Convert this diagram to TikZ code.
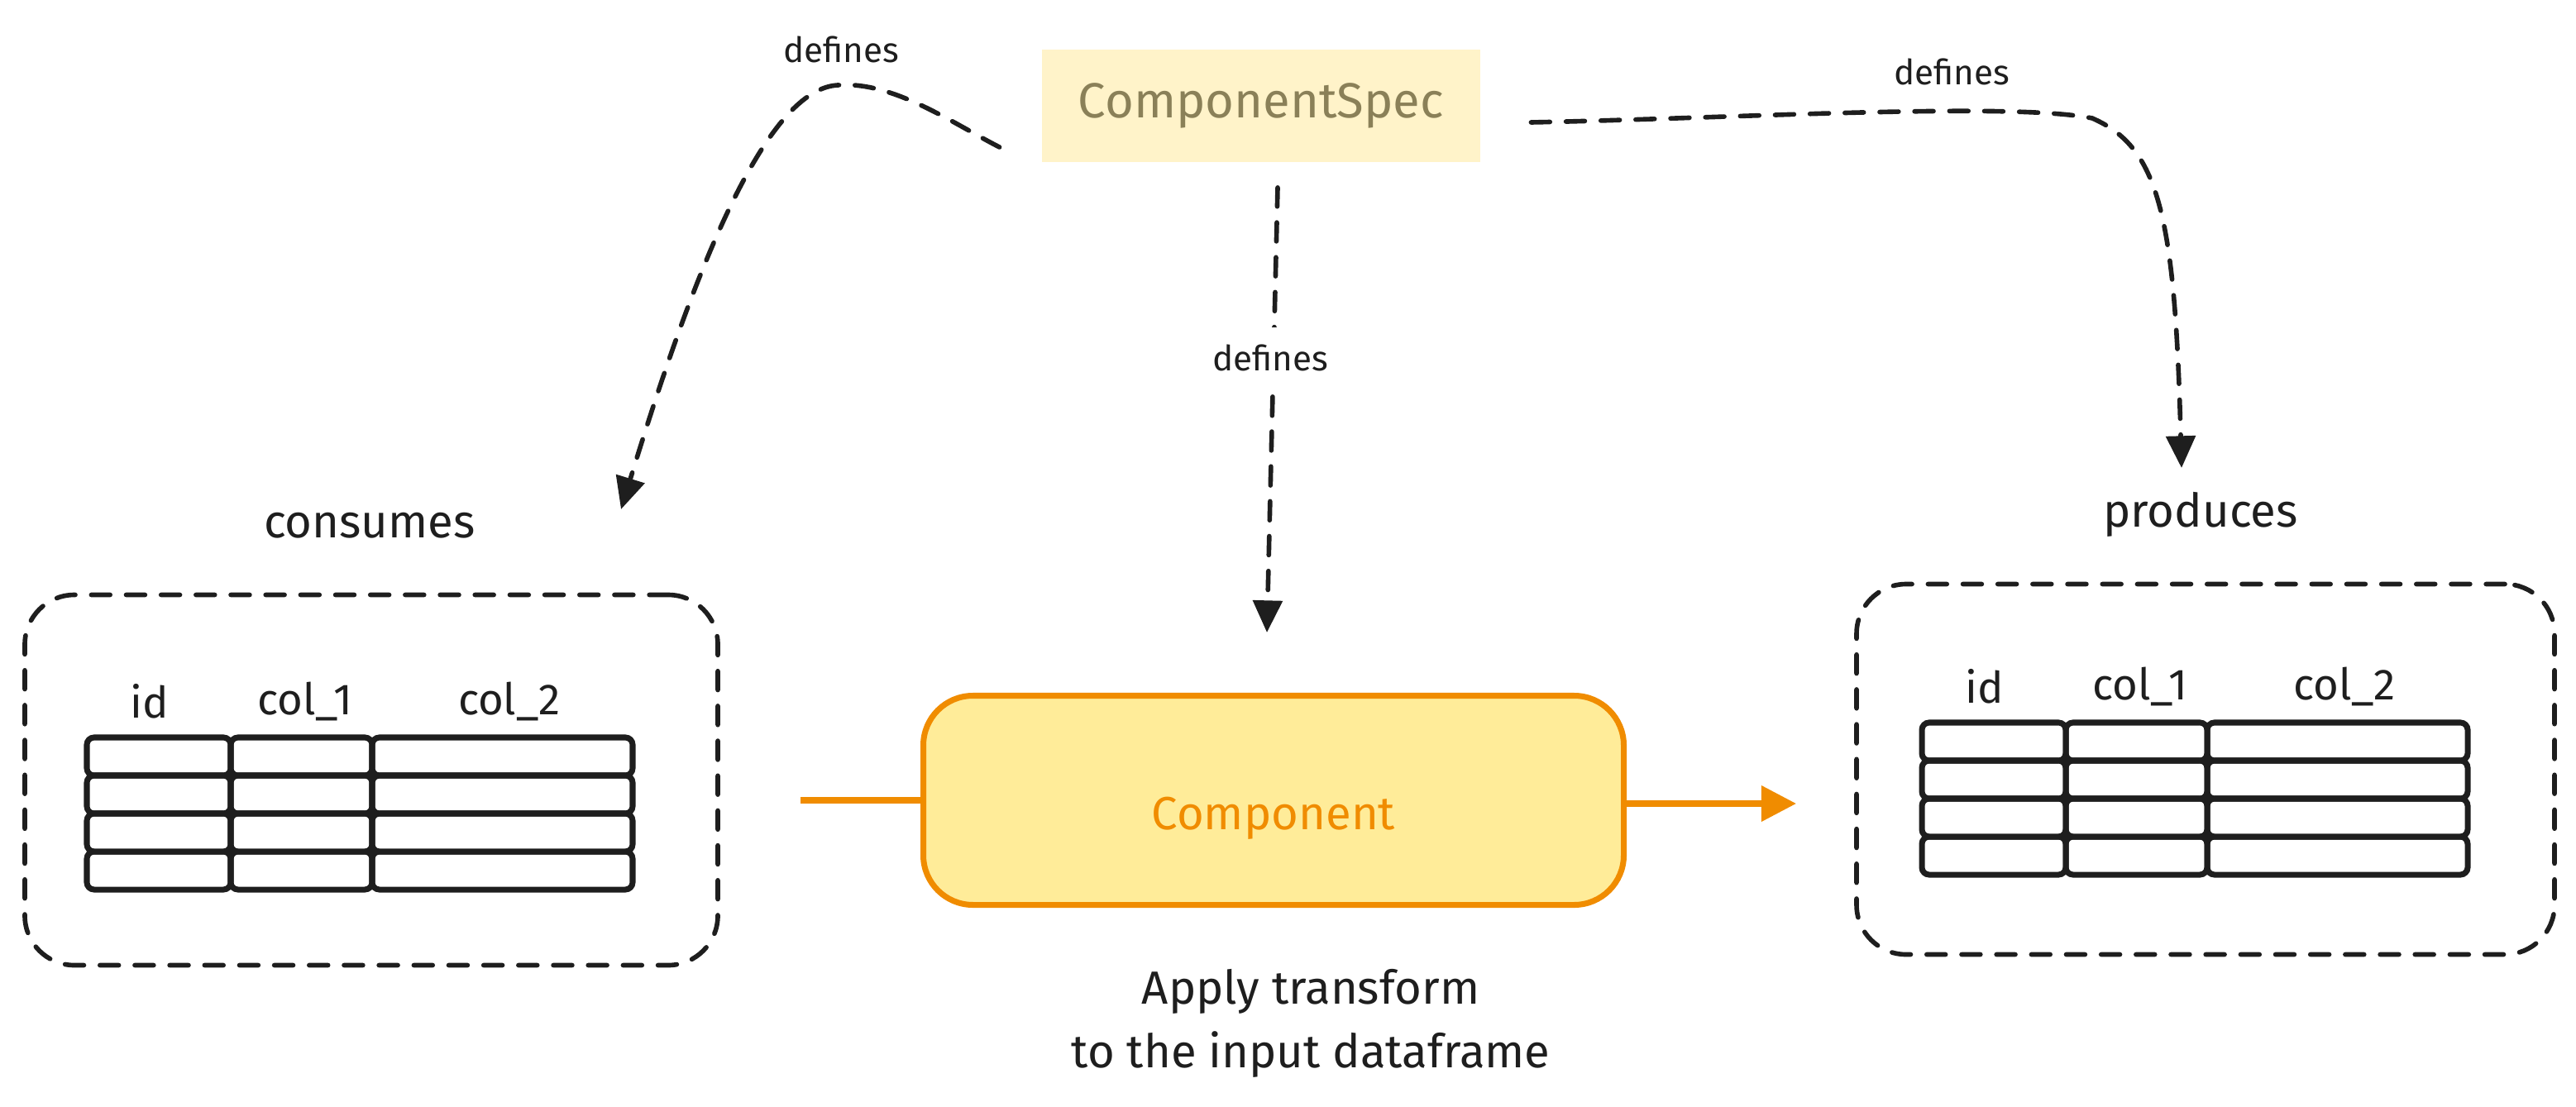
\documentclass[tikz,border=0pt]{standalone}
\usepackage{fontspec}
\setmainfont{Fira Sans}
\usetikzlibrary{arrows.meta,positioning}

\definecolor{inkblack}{HTML}{1E1E1E}
\definecolor{specfill}{HTML}{FFF3C9}
\definecolor{spectext}{HTML}{8A8058}
\definecolor{compfill}{HTML}{FFEC99}
\definecolor{comporange}{HTML}{F08C00}

\begin{document}
\begin{tikzpicture}[>=Stealth, thick,
    sketch/.style={line width=1.6pt, draw=inkblack, dash pattern=on 6.5pt off 5.5pt, line cap=round},
    defarrow/.style={sketch, -{Triangle[length=11pt,width=10pt]}},
    framebox/.style={sketch, rounded corners=0.6cm, minimum height=4.48cm},
    cell/.style={line width=2pt, draw=inkblack, rounded corners=2.5pt},
    colhead/.style={text=inkblack, font=\fontsize{15}{18}\selectfont},
    bigtext/.style={text=inkblack, font=\fontsize{16}{22}\selectfont},
    smalltext/.style={text=inkblack, font=\fontsize{12}{14}\selectfont},
    flow/.style={line width=2pt, draw=comporange}]

    \useasboundingbox (0,0) rectangle (31.15,13.38);

    % Spec note and component
    \node[fill=specfill, minimum width=5.3cm, minimum height=1.35cm, text=spectext,
        font=\fontsize{17}{20}\selectfont] (spec) at (15.25,12.1) {ComponentSpec};
    \node[flow, fill=compfill, rounded corners=0.6cm, minimum width=8.47cm, minimum height=2.53cm,
        text=comporange, font=\fontsize{16}{20}\selectfont] (comp) at (15.4,3.7) {\raisebox{-3.5mm}[0pt][0pt]{Component}};
    \node[bigtext, align=center] (note) at (15.85,1.0) {Apply transform\\to the input dataframe};

    % Input and output frames
    \node[framebox, minimum width=8.38cm] (inbox) at (4.49,3.945) {};
    \node[framebox, minimum width=8.44cm] (outbox) at (26.67,4.075) {};
    \node[bigtext] (consumes) at (4.47,7.02) {consumes};
    \node[bigtext] (produces) at (26.61,7.16) {produces};

    % Tables
    \def\datatable#1#2{
        \begin{scope}[shift={#1}]
            \foreach \xa/\xb in {0/1.74, 1.74/3.45, 3.45/6.6}
                \foreach \r in {0,...,3}
                    \draw[cell] (\xa,-\r*0.46) rectangle (\xb,-\r*0.46-0.46);
            \node[colhead] (#2id) at (0.76,0.44) {id};
            \node[colhead] (#2ca) at (2.64,0.44) {col\_1};
            \node[colhead] (#2cb) at (5.11,0.44) {col\_2};
        \end{scope}
    }
    \datatable{(1.05,4.46)}{in}
    \datatable{(23.24,4.64)}{out}

    % Free ends
    \coordinate (intip) at (7.51,7.22);
    \coordinate (outtip) at (26.38,7.72);
    \coordinate (feed) at (9.68,3.70);
    \coordinate (result) at (21.72,3.66);

    % Dashed defines arrows
    \draw[defarrow] ([xshift=-5mm,yshift=-5mm]spec.west) .. controls (11.5,11.9) and (10.8,12.4) .. (10.13,12.35)
        .. controls (9.2,12.3) and (8.3,9.8) .. (intip);
    \node[smalltext] (defl) at (10.17,12.78) {defines};
    \draw[defarrow] ([xshift=2mm,yshift=-3mm]spec.south) -- (15.32,5.73);
    \node[smalltext, fill=white, inner ysep=6pt] (defm) at (15.36,9.05) {defines};
    \draw[defarrow] ([xshift=6mm,yshift=-2mm]spec.east) .. controls (21,11.95) and (24.3,12.15) .. (25.3,11.95)
        .. controls (26.1,11.6) and (26.3,10.8) .. (outtip);
    \node[smalltext] (defr) at (23.6,12.51) {defines};

    % Data flow
    \draw[flow] (feed) -- (comp.west);
    \draw[flow, -{Triangle[length=12pt,width=12pt]}] (comp.east |- result) -- (result);
\end{tikzpicture}
\end{document}
